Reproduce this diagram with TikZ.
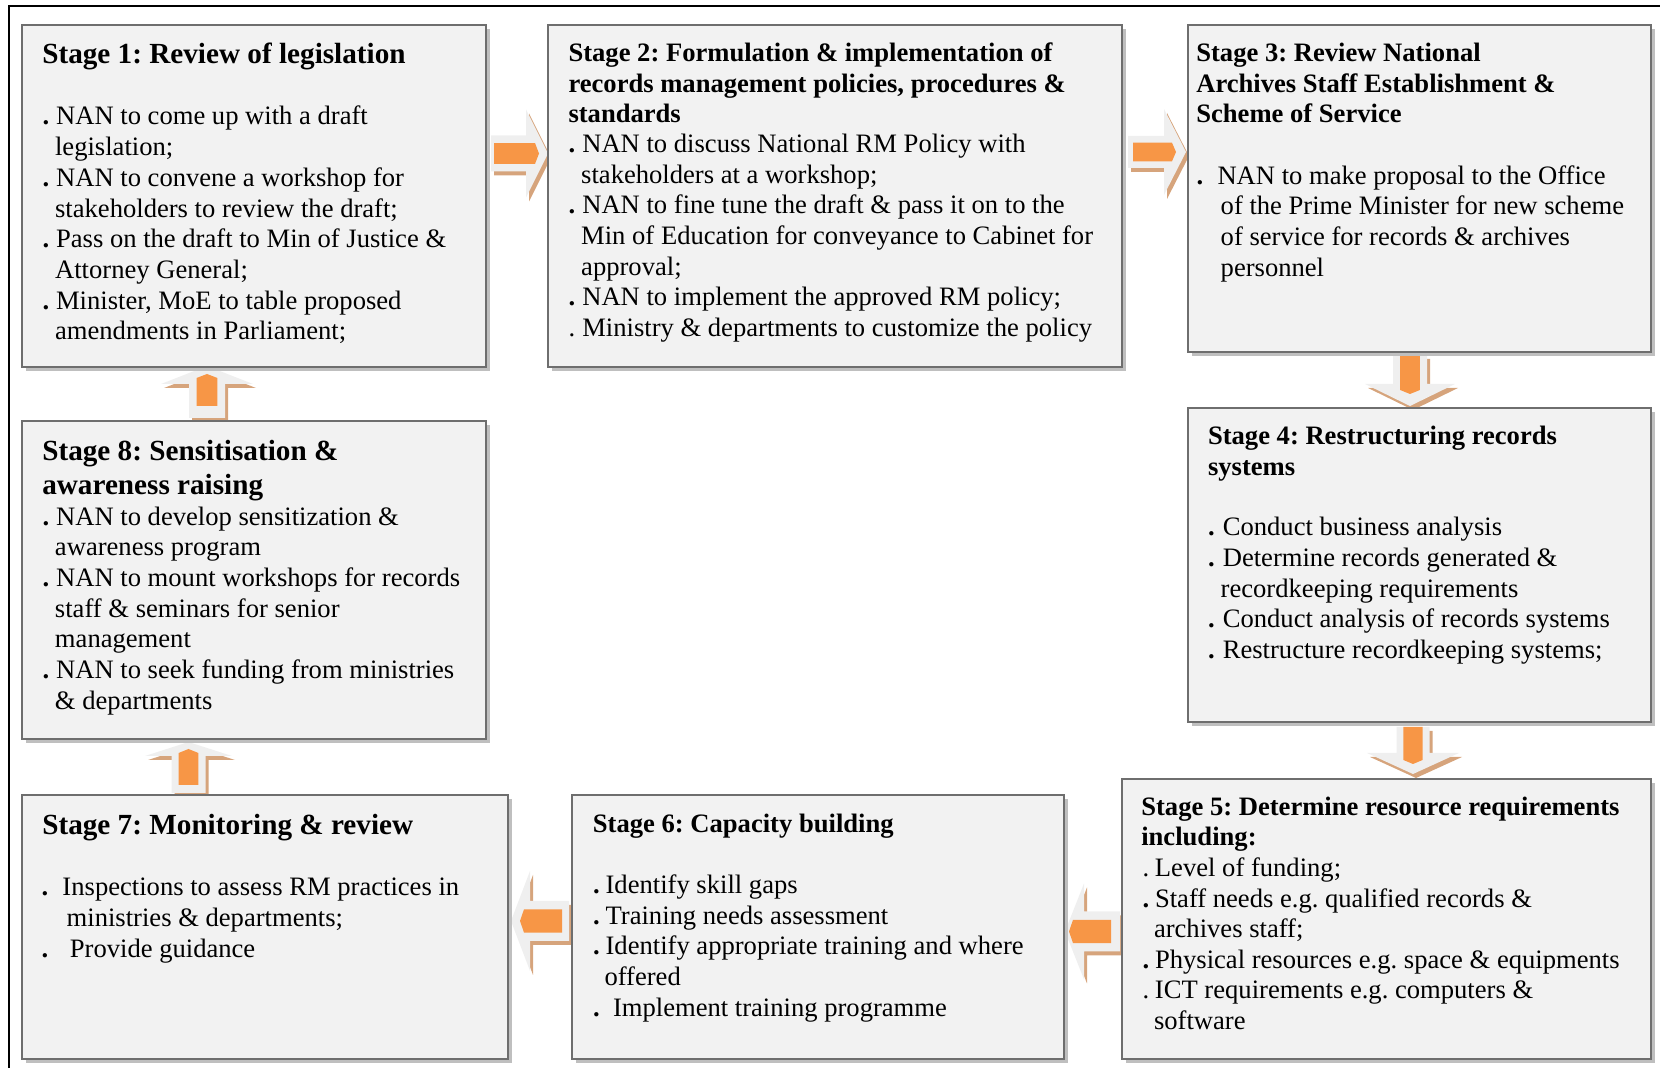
\documentclass[tikz,border=0pt]{standalone}
\usepackage{fontspec}
\setmainfont{Liberation Serif}
\usetikzlibrary{fit,shadows,backgrounds,calc}
\frenchspacing
\definecolor{boxfill}{HTML}{F2F2F2}
\definecolor{boxline}{HTML}{6E6E6E}
\definecolor{arrtanc}{HTML}{D6A47C}
\definecolor{arrpalec}{HTML}{EFEFEF}
\definecolor{arrorc}{HTML}{F79646}
\newcommand\mylines[2]{\vtop{\frenchspacing\baselineskip=#1\lineskiplimit=-20pt\lineskip=0pt\halign{##\hfil\cr#2\crcr}}}
\newcommand\mydot[1]{\makebox[#1][l]{\hspace*{-1.5pt}\textbf{.}}}
\newcommand\mydotr[1]{\makebox[#1][l]{\hspace*{-1.5pt}.}}
\newcommand\myind[1]{\hspace*{#1}}
% 3-D block arrow: origin, rotation, shaft half width, head half width, shaft length, total length, orange start, orange end
\newcommand\tdarrow[8]{%
  \begin{scope}[shift={(#1)}]
    \begin{scope}[shift={(3,4)},rotate=#2]
      \fill[arrtanc] (0,-#3) -- (#5,-#3) -- (#5,-#4) -- (#6,0) -- (#5,#4) -- (#5,#3) -- (0,#3) -- cycle;
    \end{scope}
    \begin{scope}[rotate=#2]
      \fill[arrpalec] (0,-#3) -- (#5,-#3) -- (#5,-#4) -- (#6,0) -- (#5,#4) -- (#5,#3) -- (0,#3) -- cycle;
      \fill[arrorc] (#7,{-0.58*#3}) -- ({#8-4},{-0.58*#3}) -- (#8,0) -- ({#8-4},{0.58*#3}) -- (#7,{0.58*#3}) -- cycle;
    \end{scope}
  \end{scope}}
\tikzset{
  stagebox/.style={draw=boxline, line width=1pt, fill=boxfill, inner sep=0pt,
    drop shadow={shadow xshift=2pt, shadow yshift=-2pt, fill=black!25, opacity=1}},
  tnode/.style={anchor=base west, inner sep=0pt, outer sep=0pt},
  ttlbig/.style={tnode, font=\fontsize{14.6}{16.9}\selectfont\bfseries},
  ttl/.style={tnode, font=\fontsize{13.3}{15.35}\selectfont\bfseries},
  body/.style={tnode, font=\fontsize{13.3}{15.35}\selectfont},
}
\begin{document}
\begin{tikzpicture}[x=0.5pt,y=-0.5pt]
\useasboundingbox (0,0) rectangle (1660,1068);
\draw[line width=0.9pt] (9,1070) -- (9,6) -- (1670,6);

% boxes
\node[stagebox, fit={(22.2,25.4)(486,367.4)}] (s1) {};
\node[stagebox, fit={(548.4,25.4)(1122.2,367.4)}] (s2) {};
\node[stagebox, fit={(1187.9,25.4)(1650.5,352.5)}] (s3) {};
\node[stagebox, fit={(1187.9,407.6)(1650.5,722)}] (s4) {};
\node[stagebox, fit={(1122.2,779.2)(1650.5,1058.7)}] (s5) {};
\node[stagebox, fit={(571.7,795)(1064,1058.7)}] (s6) {};
\node[stagebox, fit={(22.2,795)(508.2,1058.7)}] (s7) {};
\node[stagebox, fit={(22.2,421.4)(486,739)}] (s8) {};

% arrows behind boxes
\begin{scope}[on background layer]
\tdarrow{$(s1.east)+(4,-42.9)$}{0}{18}{44}{35}{57}{3}{48}
\tdarrow{$(s2.east)+(4.8,-44.4)$}{0}{16}{43}{36}{58}{5}{48}
\tdarrow{$(s3.south)+(-9.2,1.5)$}{-90}{17}{45}{29}{51}{0}{39}
\tdarrow{$(s4.south)+(-6.2,4)$}{-90}{16.5}{46}{26}{47}{0}{37}
\tdarrow{$(s8.north)+(-47.1,-2.4)$}{90}{18}{46}{34}{52}{12}{44}
\tdarrow{$(s7.north)+(-76.7,-1)$}{90}{17}{43.5}{37}{51}{8}{44}
\tdarrow{$(s6.west)+(-1.7,-5.9)$}{180}{20}{50}{39}{58}{7}{49}
\tdarrow{$(s5.west)+(-1.2,12.5)$}{180}{20}{48}{36}{55}{9}{51}
\end{scope}

% Stage 1
\node[ttlbig] (t1) at (42.3,63.5) {\mylines{16.9pt}{Stage 1: Review of legislation}};
\node[body] (b1) at (45.5,125) {\mylines{15.35pt}{%
\mydot{5.3pt}NAN to come up with a draft\cr
\myind{4.8pt}legislation;\cr
\mydot{5.3pt}NAN to convene a workshop for\cr
\myind{4.8pt}stakeholders to review the draft;\cr
\mydot{5.3pt}Pass on the draft to Min of Justice \&\cr
\myind{4.8pt}Attorney General;\cr
\mydot{5.3pt}Minister, MoE to table proposed\cr
\myind{4.8pt}amendments in Parliament;}};

% Stage 2
\node[ttl] (t2) at (568.5,61.5) {\mylines{15.35pt}{%
Stage 2: Formulation \& implementation of\cr
records management policies, procedures \&\cr
standards}};
\node[body] (b2) at (571.7,152.5) {\mylines{15.35pt}{%
\mydot{5.3pt}NAN to discuss National RM Policy with\cr
\myind{4.75pt}stakeholders at a workshop;\cr
\mydot{5.3pt}NAN to fine tune the draft \& pass it on to the\cr
\myind{4.75pt}Min of Education for conveyance to Cabinet for\cr
\myind{4.75pt}approval;\cr
\mydot{5.3pt}NAN to implement the approved RM policy;\cr
\mydotr{5.3pt}Ministry \& departments to customize the policy}};

% Stage 3
\node[ttl] (t3) at (1196.3,61.5) {\mylines{15.35pt}{%
Stage 3: Review National\cr
Archives Staff Establishment \&\cr
Scheme of Service}};
\node[body] (b3) at (1199.5,184.3) {\mylines{15.35pt}{%
\mydot{9pt}NAN to make proposal to the Office\cr
\myind{10.6pt}of the Prime Minister for new scheme\cr
\myind{10.6pt}of service for records \& archives\cr
\myind{10.6pt}personnel}};

% Stage 4
\node[ttl] (t4) at (1208,444.7) {\mylines{15.35pt}{%
Stage 4: Restructuring records\cr
systems}};
\node[body] (b4) at (1211,535.8) {\mylines{15.35pt}{%
\mydot{5.9pt}Conduct business analysis\cr
\mydot{5.9pt}Determine records generated \&\cr
\myind{4.85pt}recordkeeping requirements\cr
\mydot{5.9pt}Conduct analysis of records systems\cr
\mydot{5.9pt}Restructure recordkeeping systems;}};

% Stage 5
\node[ttl] (t5) at (1141.3,815.2) {\mylines{15.35pt}{%
Stage 5: Determine resource requirements\cr
including:}};
\node[body] (b5) at (1145.5,876.7) {\mylines{15.25pt}{%
\mydotr{4.75pt}Level of funding;\cr
\mydot{4.75pt}Staff needs e.g. qualified records \&\cr
\myind{4.25pt}archives staff;\cr
\mydot{4.75pt}Physical resources e.g. space \& equipments\cr
\mydotr{4.75pt}ICT requirements e.g. computers \&\cr
\myind{4.25pt}software}};

% Stage 6
\node[ttl] (t6) at (592.9,832.2) {\mylines{15.35pt}{Stage 6: Capacity building}};
\node[body] (b6) at (596,893.6) {\mylines{15.35pt}{%
\mydot{4.8pt}Identify skill gaps\cr
\mydot{4.8pt}Training needs assessment\cr
\mydot{4.8pt}Identify appropriate training and where\cr
\myind{4.25pt}offered\cr
\mydot{8.5pt}Implement training programme}};

% Stage 7
\node[ttlbig] (t7) at (42.3,834.7) {\mylines{16.9pt}{Stage 7: Monitoring \& review}};
\node[body] (b7) at (44.5,895.7) {\mylines{15.35pt}{%
\mydot{9pt}Inspections to assess RM practices in\cr
\myind{11.1pt}ministries \& departments;\cr
\mydot{12.7pt}Provide guidance}};

% Stage 8
\node[ttlbig] (t8) at (42.3,461) {\mylines{16.95pt}{%
Stage 8: Sensitisation \&\cr
awareness raising}};
\node[body] (b8) at (45.5,525.2) {\mylines{15.35pt}{%
\mydot{5.3pt}NAN to develop sensitization \&\cr
\myind{4.75pt}awareness program\cr
\mydot{5.3pt}NAN to mount workshops for records\cr
\myind{4.75pt}staff \& seminars for senior\cr
\myind{4.75pt}management\cr
\mydot{5.3pt}NAN to seek funding from ministries\cr
\myind{4.75pt}\& departments}};
\end{tikzpicture}
\end{document}
